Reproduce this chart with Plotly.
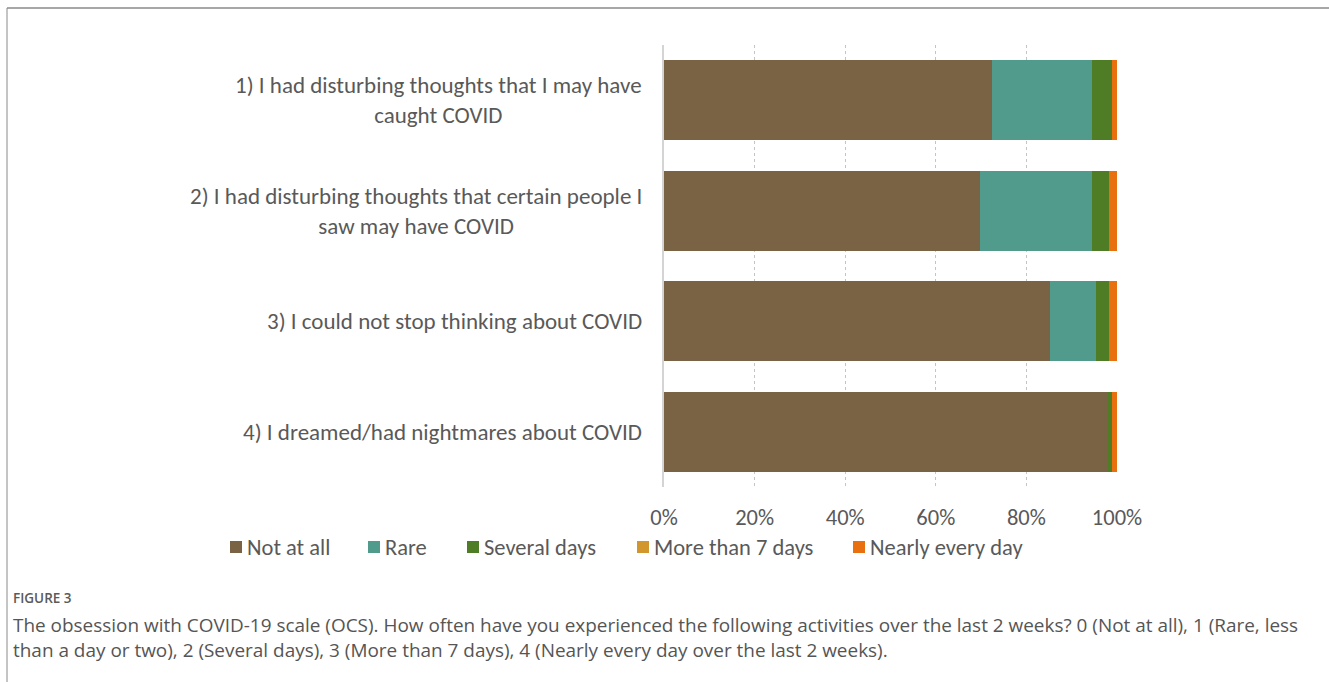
import plotly.graph_objects as go

# ---- data ----
items = [
    "1) I had disturbing thoughts that I may have<br>caught COVID",
    "2) I had disturbing thoughts that certain people I<br>saw may have COVID",
    "3) I could not stop thinking about COVID",
    "4) I dreamed/had nightmares about COVID",
]
series_names = ["Not at all", "Rare", "Several days", "More than 7 days", "Nearly every day"]
not_at_all = [72.4, 69.8, 85.1, 98.0]
rare = [22.1, 24.7, 10.2, 0.0]
several_days = [4.4, 3.7, 2.9, 1.0]
more_than_7 = [0.0, 0.0, 0.0, 0.0]
nearly_every_day = [1.1, 1.8, 1.8, 1.0]
tick_vals = [0, 20, 40, 60, 80, 100]
tick_text = ["0%", "20%", "40%", "60%", "80%", "100%"]
colors = ["#7A6244", "#509B8C", "#4E7D25", "#D1962E", "#E8700F"]

W, H = 1329, 682
L, R, T, B = 664, 212, 45, 195
PW, PH = W - L - R, H - T - B

def px_x(px):
    return (px - L) / PW

def px_y(py):
    return (H - B - py) / PH

TXT = "#595959"
FONT = "Carlito, 'Liberation Sans Narrow', 'Open Sans', sans-serif"
FS = 22.5

fig = go.Figure()
for name, vals, col in zip(series_names,
                           [not_at_all, rare, several_days, more_than_7, nearly_every_day],
                           colors):
    fig.add_trace(go.Bar(y=list(range(len(items))), x=vals, name=name, orientation="h",
                         marker=dict(color=col, line=dict(width=0)), showlegend=False))

annotations = []
for i, lab in enumerate(items):
    annotations.append(dict(x=px_x(644), y=i, xref="paper", yref="y", text=lab,
                            showarrow=False, xanchor="right", yanchor="middle", align="center",
                            font=dict(size=23, color=TXT, family=FONT)))

shapes = []
# legend (manual)
leg_sq_x = [230, 368, 467, 637, 853]
leg_y = 547
for x0, name, col in zip(leg_sq_x, series_names, colors):
    shapes.append(dict(type="rect", xref="paper", yref="paper",
                       x0=px_x(x0), x1=px_x(x0 + 12), y0=px_y(leg_y + 6), y1=px_y(leg_y - 6),
                       fillcolor=col, line=dict(width=0)))
    annotations.append(dict(x=px_x(x0 + 15), y=px_y(leg_y), xref="paper", yref="paper",
                            text=name, showarrow=False, xanchor="left", yanchor="middle",
                            font=dict(size=FS, color=TXT, family=FONT)))

# frame lines
shapes.append(dict(type="line", xref="paper", yref="paper", x0=px_x(7), x1=px_x(1335),
                   y0=px_y(8), y1=px_y(8), line=dict(color="#8a8a8a", width=1.5)))
shapes.append(dict(type="line", xref="paper", yref="paper", x0=px_x(7), x1=px_x(7),
                   y0=px_y(8), y1=px_y(690), line=dict(color="#8a8a8a", width=1)))

# caption
annotations.append(dict(x=px_x(11), y=px_y(598), xref="paper", yref="paper", text="FIGURE 3",
                        showarrow=False, xanchor="left", yanchor="middle",
                        font=dict(size=13.5, color="#5a5a5a", family="'Open Sans', sans-serif",
                                  weight=600)))
annotations.append(dict(x=px_x(11), y=px_y(637), xref="paper", yref="paper",
                        text="The obsession with COVID-19 scale (OCS). How often have you experienced the following activities over the last 2 weeks? 0 (Not at all), 1 (Rare, less<br>than a day or two), 2 (Several days), 3 (More than 7 days), 4 (Nearly every day over the last 2 weeks).",
                        showarrow=False, xanchor="left", yanchor="middle", align="left",
                        font=dict(size=18.95, color="#555555", family="'Open Sans', sans-serif")))

fig.update_layout(
    width=W, height=H, margin=dict(l=L, r=R, t=T, b=B),
    barmode="stack", bargap=0.28,
    paper_bgcolor="white", plot_bgcolor="white",
    xaxis=dict(range=[0, 100], tickvals=tick_vals, ticktext=tick_text, showgrid=True,
               gridcolor="#c4c4c4", griddash="dot", gridwidth=1.3, zeroline=False,
               showline=False, ticks="outside", ticklen=10, tickcolor="rgba(0,0,0,0)",
               tickfont=dict(size=FS, color=TXT, family=FONT), fixedrange=True),
    yaxis=dict(range=[3.5, -0.5], showticklabels=False, showgrid=False, zeroline=False,
               showline=True, linecolor="#d4d4d4", linewidth=2, fixedrange=True),
    annotations=annotations, shapes=shapes, showlegend=False,
)
fig.write_html("out.html")
